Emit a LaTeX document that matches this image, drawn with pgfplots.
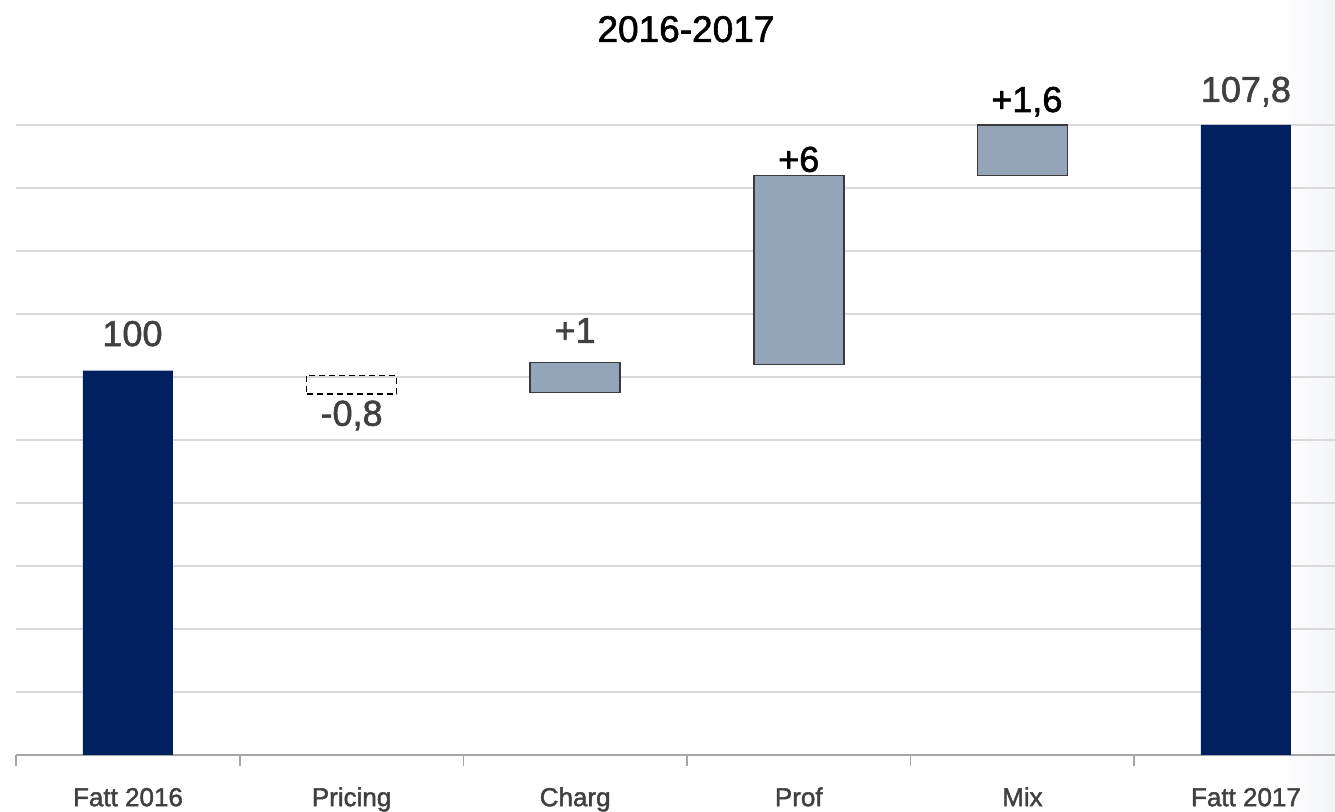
\documentclass[border=0pt]{standalone}
\usepackage{pgfplots}
\pgfplotsset{compat=1.18}
\usepackage{fontspec}
\setmainfont{Liberation Sans}
\newfontfamily\thick{Liberation Sans}[FakeBold=1.6]
\definecolor{navy}{HTML}{002060}
\definecolor{barg}{HTML}{95A5B9}
\definecolor{edge}{HTML}{3A3A3A}
\definecolor{gridc}{HTML}{D9D9D9}
\definecolor{axisc}{HTML}{A6A6A6}
\definecolor{txt}{HTML}{404040}
\definecolor{edgebg}{HTML}{F3F4F7}
\begin{document}
\begin{tikzpicture}
\path[use as bounding box] (-16.2pt,-56pt) rectangle (1318.8pt,755pt);
\shade[left color=white,right color=edgebg] (1260pt,-56pt) rectangle (1318.8pt,755pt);
\begin{axis}[
  scale only axis, width=1319.2pt, height=755pt,
  xmin=-0.5, xmax=5.4, ymin=87.8, ymax=111.768,
  ybar stacked, bar width=90pt,
  axis lines*=left, axis line style={-},
  y axis line style={draw=none},
  x axis line style={draw=axisc, line width=1.5pt},
  ytick={89.8,91.8,93.8,95.8,97.8,99.8,101.8,103.8,105.8,107.8},
  yticklabels={}, ytick style={draw=none},
  ymajorgrids, major grid style={draw=gridc, line width=1.5pt},
  xtick={0,1,2,3,4,5},
  xticklabels={Fatt 2016, Pricing, Charg, Prof, Mix, Fatt 2017},
  major x tick style={draw=none},
  minor xtick={-0.5,0.5,1.5,2.5,3.5,4.5},
  minor x tick style={draw=axisc, line width=1.5pt},
  minor tick length=11pt, tick align=outside,
  xticklabel style={font=\thick\fontsize{26}{30}\selectfont, text=txt, anchor=base, yshift=-47pt},
]
% gray floating bars
\addplot[draw=none, fill=none] coordinates {(0,0) (1,0) (2,99.3) (3,100.2) (4,106.2) (5,0)};
\addplot[draw=edge, fill=barg, line width=1.5pt] coordinates {(0,0) (1,0) (2,0.95) (3,6) (4,1.6) (5,0)};
\addplot[draw=none, fill=none] coordinates {(0,0) (1,0) (2,-100.25) (3,-106.2) (4,-107.8) (5,0)};
% dashed negative step
\addplot[draw=none, fill=none] coordinates {(0,0) (1,99.25) (2,0) (3,0) (4,0) (5,0)};
\addplot[draw=black, fill=none, line width=1.5pt, dash pattern=on 6pt off 4pt] coordinates {(0,0) (1,0.6) (2,0) (3,0) (4,0) (5,0)};
\addplot[draw=none, fill=none] coordinates {(0,0) (1,-99.85) (2,0) (3,0) (4,0) (5,0)};
% totals
\addplot[draw=none, fill=navy] coordinates {(0,100) (1,0) (2,0) (3,0) (4,0) (5,107.8)};
% labels
\node[font=\thick\fontsize{37}{40}\selectfont, anchor=base] at (axis cs:2.4955,110.435) {2016-2017};
\node[font=\thick\fontsize{36}{40}\selectfont, text=txt, anchor=base] at (axis cs:0.02,100.78) {100};
\node[font=\thick\fontsize{36}{40}\selectfont, text=txt, anchor=base] at (axis cs:1,98.25) {-0,8};
\node[font=\thick\fontsize{36}{40}\selectfont, text=txt, anchor=base] at (axis cs:2,100.88) {+1};
\node[font=\thick\fontsize{36}{40}\selectfont, text=black, anchor=base] at (axis cs:3,106.31) {+6};
\node[font=\thick\fontsize{36}{40}\selectfont, text=black, anchor=base] at (axis cs:4.02,108.21) {+1,6};
\node[font=\thick\fontsize{36}{40}\selectfont, text=txt, anchor=base] at (axis cs:5,108.53) {107,8};
\end{axis}
\end{tikzpicture}
\end{document}
